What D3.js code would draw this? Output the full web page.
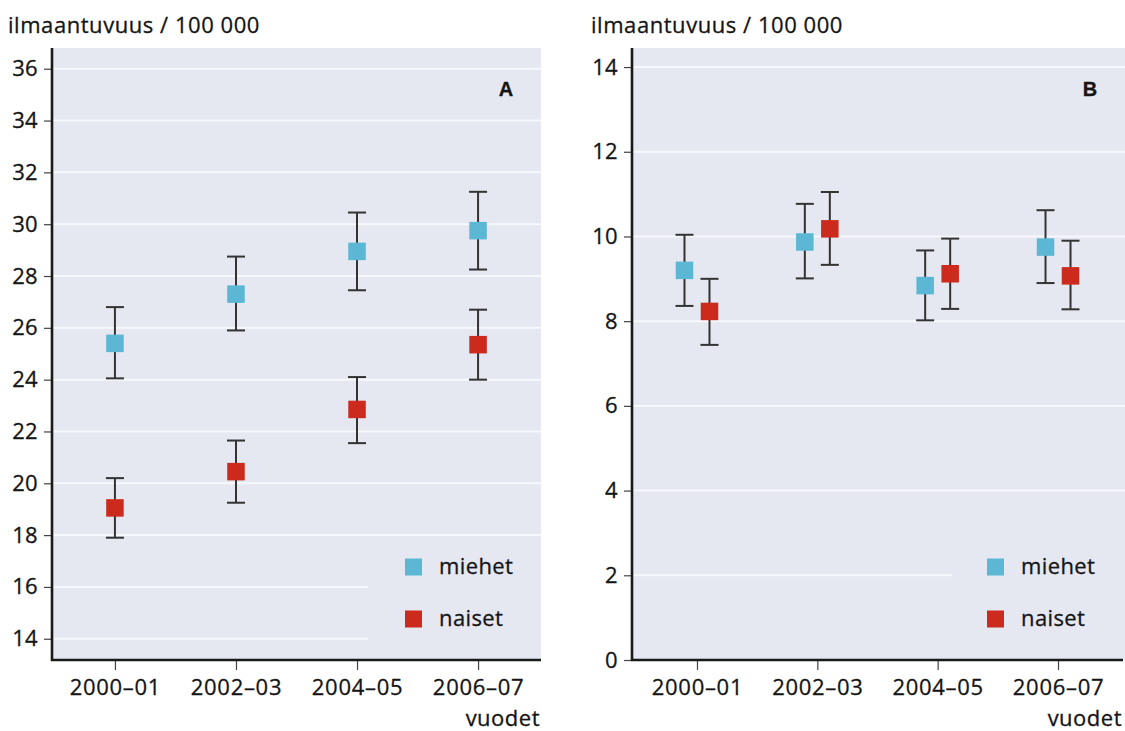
<!DOCTYPE html>
<html>
<head>
<meta charset="utf-8">
<script src="https://cdn.jsdelivr.net/npm/d3@7"></script>
<style>
  html, body { margin: 0; padding: 0; background: #ffffff; }
  svg { display: block; }
  text { font-family: "Open Sans", "Noto Sans", sans-serif; fill: #151515; stroke: #151515; stroke-width: 0.3px; }
</style>
</head>
<body>
<svg id="chart" width="1125" height="731"></svg>
<script>
// ---- data ----
const categories = ["2000–01", "2002–03", "2004–05", "2006–07"];
const seriesNames = ["miehet", "naiset"];

// Panel A
const miehetA    = [25.4, 27.3, 28.95, 29.75];
const miehetA_lo = [24.05, 25.9, 27.45, 28.25];
const miehetA_hi = [26.8, 28.75, 30.45, 31.25];
const naisetA    = [19.05, 20.45, 22.85, 25.35];
const naisetA_lo = [17.9, 19.25, 21.55, 24.0];
const naisetA_hi = [20.2, 21.65, 24.1, 26.7];
const ticksA = [14, 16, 18, 20, 22, 24, 26, 28, 30, 32, 34, 36];

// Panel B
const miehetB    = [9.2, 9.87, 8.84, 9.75];
const miehetB_lo = [8.36, 9.01, 8.02, 8.9];
const miehetB_hi = [10.04, 10.77, 9.67, 10.62];
const naisetB    = [8.23, 10.18, 9.12, 9.07];
const naisetB_lo = [7.44, 9.33, 8.29, 8.28];
const naisetB_hi = [9.0, 11.05, 9.95, 9.9];
const ticksB = [0, 2, 4, 6, 8, 10, 12, 14];

const yTitle = "ilmaantuvuus / 100 000";
const xTitle = "vuodet";

// ---- styles ----
const colors = { miehet: "#5bb7d4", naiset: "#cc2a1d" };
const bg = "#e5e7f1";
const svg = d3.select("#chart");
const plotTop = 48, plotBottom = 660;
const fs = 22;

function panel(cfg) {
  const g = svg.append("g");
  const x = d3.scalePoint().domain(categories).range([cfg.x0, cfg.x1]).padding(cfg.pad);
  const y = d3.scaleLinear().domain(cfg.ydom).range([plotBottom, plotTop]);

  // background
  g.append("rect").attr("x", cfg.x0).attr("y", plotTop)
    .attr("width", cfg.bgRight - cfg.x0).attr("height", plotBottom - plotTop).attr("fill", bg);

  // gridlines
  g.selectAll(".grid").data(cfg.ticks).join("line")
    .attr("x1", cfg.x0).attr("x2", cfg.bgRight)
    .attr("y1", d => y(d)).attr("y2", d => y(d))
    .attr("stroke", "#f7f8fc").attr("stroke-width", 2);

  // legend box (covers gridlines)
  g.append("rect").attr("x", cfg.legX).attr("y", cfg.legTop)
    .attr("width", cfg.bgRight - cfg.legX).attr("height", plotBottom - cfg.legTop).attr("fill", bg);

  // y axis
  const yAxis = d3.axisLeft(y).tickValues(cfg.ticks).tickSize(8).tickPadding(6).tickFormat(d3.format("d"));
  const ya = g.append("g").attr("transform", `translate(${cfg.x0},0)`).call(yAxis);
  ya.select(".domain").remove();
  ya.selectAll(".tick line").attr("stroke", "#444").attr("stroke-width", 1.2);
  ya.selectAll(".tick text").attr("font-size", fs).attr("fill", "#151515")
    .style("font-family", '"Open Sans", sans-serif').attr("letter-spacing", 0.3);

  // x axis
  const xAxis = d3.axisBottom(x).tickSize(10).tickPadding(9);
  const xa = g.append("g").attr("transform", `translate(0,${plotBottom})`).call(xAxis);
  xa.select(".domain").remove();
  xa.selectAll(".tick line").attr("stroke", "#444").attr("stroke-width", 1.2);
  xa.selectAll(".tick text").attr("font-size", fs).attr("fill", "#151515")
    .style("font-family", '"Open Sans", sans-serif').attr("letter-spacing", 0.7);

  // axis lines
  g.append("line").attr("x1", cfg.x0).attr("x2", cfg.x0).attr("y1", plotTop).attr("y2", plotBottom + 1)
    .attr("stroke", "#1a1a1a").attr("stroke-width", 2.6);
  g.append("line").attr("x1", cfg.x0 - 1).attr("x2", cfg.axisRight).attr("y1", plotBottom).attr("y2", plotBottom)
    .attr("stroke", "#1a1a1a").attr("stroke-width", 2.6);

  // y title
  g.append("text").attr("x", cfg.titleX).attr("y", 33).attr("font-size", fs)
    .attr("letter-spacing", 0.55).text(yTitle);
  // x title
  g.append("text").attr("x", cfg.axisRight - 1).attr("y", 726).attr("text-anchor", "end")
    .attr("font-size", fs).attr("letter-spacing", 0.5).text(xTitle);
  // panel letter
  g.append("text").attr("x", cfg.letterX).attr("y", 96).attr("text-anchor", "middle")
    .attr("font-size", 20).attr("font-weight", "bold").style("font-family", '"Liberation Sans", Arial, sans-serif')
    .text(cfg.letter);

  // series
  cfg.series.forEach((s, si) => {
    const off = cfg.offsets[si];
    const data = categories.map((c, i) => ({ c, v: s.v[i], lo: s.lo[i], hi: s.hi[i] }));
    const sg = g.append("g");
    const cap = 9;
    sg.selectAll(".eb").data(data).join("line")
      .attr("x1", d => x(d.c) + off).attr("x2", d => x(d.c) + off)
      .attr("y1", d => y(d.lo)).attr("y2", d => y(d.hi))
      .attr("stroke", "#333").attr("stroke-width", 2);
    sg.selectAll(".capT").data(data).join("line")
      .attr("x1", d => x(d.c) + off - cap).attr("x2", d => x(d.c) + off + cap)
      .attr("y1", d => y(d.hi)).attr("y2", d => y(d.hi))
      .attr("stroke", "#333").attr("stroke-width", 2);
    sg.selectAll(".capB").data(data).join("line")
      .attr("x1", d => x(d.c) + off - cap).attr("x2", d => x(d.c) + off + cap)
      .attr("y1", d => y(d.lo)).attr("y2", d => y(d.lo))
      .attr("stroke", "#333").attr("stroke-width", 2);
    const ms = 17.5;
    sg.selectAll(".pt").data(data).join("rect")
      .attr("x", d => x(d.c) + off - ms / 2).attr("y", d => y(d.v) - ms / 2)
      .attr("width", ms).attr("height", ms).attr("fill", colors[s.name]);
  });

  // legend
  seriesNames.forEach((n, i) => {
    const ly = 567 + i * 52;
    g.append("rect").attr("x", cfg.legSqX).attr("y", ly - 8.5).attr("width", 17).attr("height", 17)
      .attr("fill", colors[n]);
    g.append("text").attr("x", cfg.legSqX + 34).attr("y", ly + 7).attr("font-size", fs)
      .attr("letter-spacing", 0.4).text(n);
  });
}

panel({
  x0: 52, x1: 541, pad: 0.52, bgRight: 541, axisRight: 541,
  ydom: [13.18, 36.8], ticks: ticksA, titleX: 8, letter: "A", letterX: 506,
  legX: 368, legTop: 548, legSqX: 405,
  offsets: [0, 0],
  series: [
    { name: "miehet", v: miehetA, lo: miehetA_lo, hi: miehetA_hi },
    { name: "naiset", v: naisetA, lo: naisetA_lo, hi: naisetA_hi }
  ]
});

panel({
  x0: 632, x1: 1123, pad: 0.54, bgRight: 1125, axisRight: 1123,
  ydom: [0, 14.45], ticks: ticksB, titleX: 591, letter: "B", letterX: 1090,
  legX: 952, legTop: 530, legSqX: 987,
  offsets: [-12.5, 12.5],
  series: [
    { name: "miehet", v: miehetB, lo: miehetB_lo, hi: miehetB_hi },
    { name: "naiset", v: naisetB, lo: naisetB_lo, hi: naisetB_hi }
  ]
});
</script>
</body>
</html>
